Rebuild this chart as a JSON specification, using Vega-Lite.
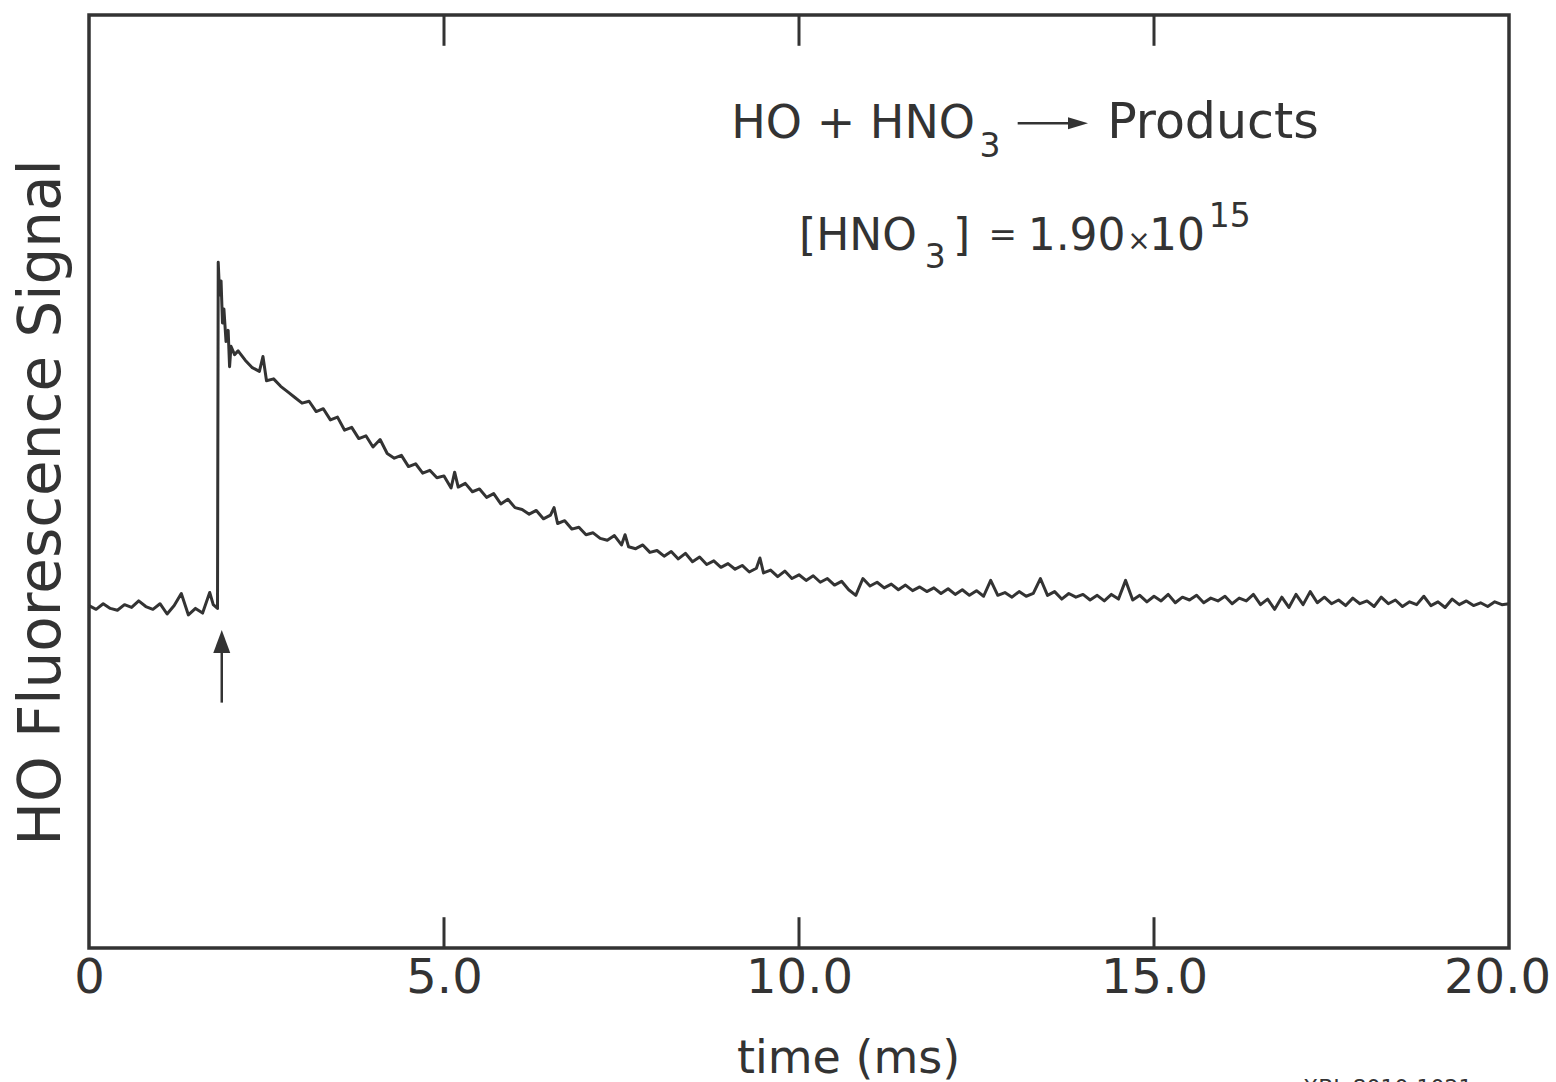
{
  "$schema": "https://vega.github.io/schema/vega-lite/v6.json",
  "width": 1420,
  "height": 933,
  "autosize": {"type": "none"},
  "padding": {"left": 89, "top": 15, "right": 47, "bottom": 134},
  "background": "white",
  "config": {
    "view": {"stroke": "#333333", "strokeWidth": 3.5},
    "text": {"font": "DejaVu Sans", "fontWeight": 400, "color": "#333333"}
  },
  "datasets": {
    "trace": [
      {"t":0.0,"v":36.7},{"t":0.1,"v":36.3},{"t":0.2,"v":36.9},{"t":0.3,"v":36.4},{"t":0.4,"v":36.2},
      {"t":0.5,"v":36.8},{"t":0.6,"v":36.5},{"t":0.7,"v":37.2},{"t":0.8,"v":36.6},{"t":0.9,"v":36.3},
      {"t":1.0,"v":36.9},{"t":1.1,"v":35.8},{"t":1.2,"v":36.7},{"t":1.3,"v":38.0},{"t":1.4,"v":35.7},
      {"t":1.5,"v":36.4},{"t":1.6,"v":35.9},{"t":1.7,"v":38.1},{"t":1.75,"v":36.8},{"t":1.81,"v":36.4},
      {"t":1.82,"v":73.5},{"t":1.84,"v":70.0},{"t":1.86,"v":71.5},{"t":1.88,"v":67.0},{"t":1.9,"v":68.5},
      {"t":1.93,"v":65.0},{"t":1.96,"v":66.2},{"t":1.98,"v":62.3},{"t":2.0,"v":64.5},{"t":2.05,"v":63.6},
      {"t":2.1,"v":64.0},{"t":2.2,"v":63.0},{"t":2.3,"v":62.2},{"t":2.4,"v":61.8},{"t":2.45,"v":63.4},
      {"t":2.5,"v":60.8},{"t":2.6,"v":61.0},{"t":2.7,"v":60.2},{"t":2.8,"v":59.6},{"t":2.9,"v":59.0},
      {"t":3.0,"v":58.4},{"t":3.1,"v":58.6},{"t":3.2,"v":57.5},{"t":3.3,"v":57.8},{"t":3.4,"v":56.6},
      {"t":3.5,"v":56.9},{"t":3.6,"v":55.5},{"t":3.7,"v":55.8},{"t":3.8,"v":54.6},{"t":3.9,"v":54.9},
      {"t":4.0,"v":53.7},{"t":4.1,"v":54.5},{"t":4.2,"v":53.0},{"t":4.3,"v":52.5},{"t":4.4,"v":52.8},
      {"t":4.5,"v":51.6},{"t":4.6,"v":51.9},{"t":4.7,"v":50.9},{"t":4.8,"v":51.2},{"t":4.9,"v":50.4},
      {"t":5.0,"v":50.6},{"t":5.1,"v":49.3},{"t":5.15,"v":51.0},{"t":5.2,"v":49.4},{"t":5.3,"v":49.8},
      {"t":5.4,"v":48.9},{"t":5.5,"v":49.2},{"t":5.6,"v":48.3},{"t":5.7,"v":48.7},{"t":5.8,"v":47.6},
      {"t":5.9,"v":48.1},{"t":6.0,"v":47.2},{"t":6.1,"v":47.0},{"t":6.2,"v":46.5},{"t":6.3,"v":46.9},
      {"t":6.4,"v":46.0},{"t":6.5,"v":46.4},{"t":6.55,"v":47.2},{"t":6.6,"v":45.5},{"t":6.7,"v":45.8},
      {"t":6.8,"v":44.9},{"t":6.9,"v":45.1},{"t":7.0,"v":44.3},{"t":7.1,"v":44.5},{"t":7.2,"v":43.9},
      {"t":7.3,"v":43.7},{"t":7.4,"v":44.2},{"t":7.5,"v":43.2},{"t":7.55,"v":44.3},{"t":7.6,"v":43.0},
      {"t":7.7,"v":42.8},{"t":7.8,"v":43.2},{"t":7.9,"v":42.4},{"t":8.0,"v":42.6},{"t":8.1,"v":42.0},
      {"t":8.2,"v":42.5},{"t":8.3,"v":41.7},{"t":8.4,"v":42.3},{"t":8.5,"v":41.4},{"t":8.6,"v":41.9},
      {"t":8.7,"v":41.1},{"t":8.8,"v":41.5},{"t":8.9,"v":40.8},{"t":9.0,"v":41.2},{"t":9.1,"v":40.6},
      {"t":9.2,"v":41.0},{"t":9.3,"v":40.3},{"t":9.4,"v":40.7},{"t":9.45,"v":41.8},{"t":9.5,"v":40.2},
      {"t":9.6,"v":40.5},{"t":9.7,"v":39.8},{"t":9.8,"v":40.4},{"t":9.9,"v":39.6},{"t":10.0,"v":40.0},
      {"t":10.1,"v":39.4},{"t":10.2,"v":39.9},{"t":10.3,"v":39.2},{"t":10.4,"v":39.6},{"t":10.5,"v":38.9},
      {"t":10.6,"v":39.3},{"t":10.7,"v":38.4},{"t":10.8,"v":37.8},{"t":10.9,"v":39.6},{"t":11.0,"v":38.8},
      {"t":11.1,"v":39.2},{"t":11.2,"v":38.6},{"t":11.3,"v":39.0},{"t":11.4,"v":38.4},{"t":11.5,"v":38.9},
      {"t":11.6,"v":38.3},{"t":11.7,"v":38.7},{"t":11.8,"v":38.2},{"t":11.9,"v":38.6},{"t":12.0,"v":38.0},
      {"t":12.1,"v":38.5},{"t":12.2,"v":37.9},{"t":12.3,"v":38.4},{"t":12.4,"v":37.8},{"t":12.5,"v":38.3},
      {"t":12.6,"v":37.7},{"t":12.7,"v":39.4},{"t":12.8,"v":37.8},{"t":12.9,"v":38.1},{"t":13.0,"v":37.6},
      {"t":13.1,"v":38.2},{"t":13.2,"v":37.7},{"t":13.3,"v":38.0},{"t":13.4,"v":39.6},{"t":13.5,"v":37.8},
      {"t":13.6,"v":38.2},{"t":13.7,"v":37.4},{"t":13.8,"v":38.0},{"t":13.9,"v":37.6},{"t":14.0,"v":37.9},
      {"t":14.1,"v":37.3},{"t":14.2,"v":37.8},{"t":14.3,"v":37.2},{"t":14.4,"v":37.9},{"t":14.5,"v":37.4},
      {"t":14.6,"v":39.4},{"t":14.7,"v":37.3},{"t":14.8,"v":37.8},{"t":14.9,"v":37.1},{"t":15.0,"v":37.7},
      {"t":15.1,"v":37.2},{"t":15.2,"v":37.9},{"t":15.3,"v":37.0},{"t":15.4,"v":37.6},{"t":15.5,"v":37.3},
      {"t":15.6,"v":37.8},{"t":15.7,"v":37.0},{"t":15.8,"v":37.5},{"t":15.9,"v":37.2},{"t":16.0,"v":37.7},
      {"t":16.1,"v":36.9},{"t":16.2,"v":37.5},{"t":16.3,"v":37.2},{"t":16.4,"v":37.9},{"t":16.5,"v":36.8},
      {"t":16.6,"v":37.4},{"t":16.7,"v":36.3},{"t":16.8,"v":37.6},{"t":16.9,"v":36.5},{"t":17.0,"v":37.9},
      {"t":17.1,"v":36.8},{"t":17.2,"v":38.2},{"t":17.3,"v":37.0},{"t":17.4,"v":37.6},{"t":17.5,"v":36.9},
      {"t":17.6,"v":37.3},{"t":17.7,"v":36.7},{"t":17.8,"v":37.5},{"t":17.9,"v":36.9},{"t":18.0,"v":37.2},
      {"t":18.1,"v":36.6},{"t":18.2,"v":37.6},{"t":18.3,"v":36.9},{"t":18.4,"v":37.3},{"t":18.5,"v":36.6},
      {"t":18.6,"v":37.1},{"t":18.7,"v":36.8},{"t":18.8,"v":37.7},{"t":18.9,"v":36.7},{"t":19.0,"v":37.1},
      {"t":19.1,"v":36.5},{"t":19.2,"v":37.4},{"t":19.3,"v":36.8},{"t":19.4,"v":37.2},{"t":19.5,"v":36.7},
      {"t":19.6,"v":37.0},{"t":19.7,"v":36.6},{"t":19.8,"v":37.1},{"t":19.9,"v":36.8},{"t":20.0,"v":36.9}
    ],
    "ticks": [{"t":5},{"t":10},{"t":15}]
  },
  "layer": [
    {
      "data": {"name": "trace"},
      "mark": {"type": "line", "stroke": "#333333", "strokeWidth": 3, "strokeJoin": "round"},
      "encoding": {
        "x": {
          "field": "t", "type": "quantitative",
          "scale": {"domain": [0, 20], "nice": false, "zero": false},
          "axis": {
            "orient": "bottom", "values": [0, 5, 10, 15, 20],
            "labelExpr": "datum.value == 0 ? '0' : format(datum.value, '.1f')",
            "labelFont": "DejaVu Sans", "labelFontWeight": 400, "labelFontSize": 48, "labelColor": "#333333",
            "labelPadding": 6, "labelFlush": false, "ticks": false, "domain": false, "grid": false,
            "labelOffset": {"condition": {"test": "datum.value == 20", "value": -12}, "value": 0},
            "title": "time (ms)", "titleFont": "DejaVu Sans", "titleFontWeight": 400, "titleFontSize": 46,
            "titleColor": "#333333", "titleX": 759, "titleY": 124, "titleBaseline": "alphabetic", "titleAlign": "center"
          }
        },
        "y": {
          "field": "v", "type": "quantitative",
          "scale": {"domain": [0, 100], "nice": false, "zero": false},
          "axis": {
            "orient": "left", "labels": false, "ticks": false, "domain": false, "grid": false,
            "title": "HO Fluorescence Signal", "titleFont": "DejaVu Sans", "titleFontWeight": 400, "titleFontSize": 58,
            "titleColor": "#333333", "titleX": -47, "titleY": 487, "titleAngle": -90,
            "titleBaseline": "middle", "titleAlign": "center"
          }
        }
      }
    },
    {
      "data": {"name": "ticks"},
      "mark": {"type": "rule", "stroke": "#333333", "strokeWidth": 3},
      "encoding": {
        "x": {"field": "t", "type": "quantitative"},
        "y": {"datum": 0},
        "y2": {"datum": 3.3}
      }
    },
    {
      "data": {"name": "ticks"},
      "mark": {"type": "rule", "stroke": "#333333", "strokeWidth": 3},
      "encoding": {
        "x": {"field": "t", "type": "quantitative"},
        "y": {"datum": 96.7},
        "y2": {"datum": 100}
      }
    },
    {
      "data": {"values": [{"t": 1.87}]},
      "mark": {"type": "rule", "stroke": "#333333", "strokeWidth": 2.5},
      "encoding": {
        "x": {"field": "t", "type": "quantitative"},
        "y": {"datum": 26.3},
        "y2": {"datum": 32.0}
      }
    },
    {
      "data": {"values": [{"t": 1.87}]},
      "mark": {"type": "point", "shape": "M0,-1L-0.74,1L0.74,1Z", "size": 529, "filled": true, "fill": "#333333", "opacity": 1},
      "encoding": {
        "x": {"field": "t", "type": "quantitative"},
        "y": {"datum": 32.85}
      }
    },
    {
      "data": {"values": [{"t": 13.08, "t2": 13.85}]},
      "mark": {"type": "rule", "stroke": "#333333", "strokeWidth": 2.5},
      "encoding": {
        "x": {"field": "t", "type": "quantitative"},
        "x2": {"field": "t2"},
        "y": {"datum": 88.4}
      }
    },
    {
      "data": {"values": [{"t": 13.93}]},
      "mark": {"type": "point", "shape": "M1,0L-1,-0.6L-1,0.6Z", "size": 400, "filled": true, "fill": "#333333", "opacity": 1},
      "encoding": {
        "x": {"field": "t", "type": "quantitative"},
        "y": {"datum": 88.4}
      }
    },
    {
      "data": {"values": [
        {"label": "HO + HNO", "t": 12.48, "v": 86.82}
      ]},
      "mark": {"type": "text", "fontSize": 46, "align": "right", "baseline": "alphabetic"},
      "encoding": {
        "x": {"field": "t", "type": "quantitative"},
        "y": {"field": "v", "type": "quantitative"},
        "text": {"field": "label"}
      }
    },
    {
      "data": {"values": [
        {"label": "Products", "t": 14.34, "v": 86.82}
      ]},
      "mark": {"type": "text", "fontSize": 49, "align": "left", "baseline": "alphabetic"},
      "encoding": {
        "x": {"field": "t", "type": "quantitative"},
        "y": {"field": "v", "type": "quantitative"},
        "text": {"field": "label"}
      }
    },
    {
      "data": {"values": [
        {"label": "]", "t": 12.17, "v": 74.81}
      ]},
      "mark": {"type": "text", "fontSize": 44, "align": "left", "baseline": "alphabetic"},
      "encoding": {
        "x": {"field": "t", "type": "quantitative"},
        "y": {"field": "v", "type": "quantitative"},
        "text": {"field": "label"}
      }
    },
    {
      "data": {"values": [
        {"label": "[HNO", "t": 11.66, "v": 74.81},
        {"label": "1.90", "t": 14.6, "v": 74.81},
        {"label": "10", "t": 15.72, "v": 74.81}
      ]},
      "mark": {"type": "text", "fontSize": 44, "align": "right", "baseline": "alphabetic"},
      "encoding": {
        "x": {"field": "t", "type": "quantitative"},
        "y": {"field": "v", "type": "quantitative"},
        "text": {"field": "label"}
      }
    },
    {
      "data": {"values": [
        {"label": "=", "t": 12.87, "v": 75.24}
      ]},
      "mark": {"type": "text", "fontSize": 34, "align": "center", "baseline": "alphabetic"},
      "encoding": {
        "x": {"field": "t", "type": "quantitative"},
        "y": {"field": "v", "type": "quantitative"},
        "text": {"field": "label"}
      }
    },
    {
      "data": {"values": [
        {"label": "×", "t": 14.79, "v": 74.81}
      ]},
      "mark": {"type": "text", "fontSize": 28, "align": "center", "baseline": "alphabetic"},
      "encoding": {
        "x": {"field": "t", "type": "quantitative"},
        "y": {"field": "v", "type": "quantitative"},
        "text": {"field": "label"}
      }
    },
    {
      "data": {"values": [
        {"label": "3", "t": 12.69, "v": 84.78},
        {"label": "3", "t": 11.92, "v": 72.88}
      ]},
      "mark": {"type": "text", "fontSize": 33, "align": "center", "baseline": "alphabetic"},
      "encoding": {
        "x": {"field": "t", "type": "quantitative"},
        "y": {"field": "v", "type": "quantitative"},
        "text": {"field": "label"}
      }
    },
    {
      "data": {"values": [
        {"label": "15", "t": 15.77, "v": 77.28}
      ]},
      "mark": {"type": "text", "fontSize": 33, "align": "left", "baseline": "alphabetic"},
      "encoding": {
        "x": {"field": "t", "type": "quantitative"},
        "y": {"field": "v", "type": "quantitative"},
        "text": {"field": "label"}
      }
    },
    {
      "data": {"values": [
        {"label": "XBL 8010-1021", "t": 17.1, "v": -13.9}
      ]},
      "mark": {"type": "text", "fontSize": 22, "align": "left", "baseline": "top"},
      "encoding": {
        "x": {"field": "t", "type": "quantitative"},
        "y": {"field": "v", "type": "quantitative"},
        "text": {"field": "label"}
      }
    }
  ]
}
